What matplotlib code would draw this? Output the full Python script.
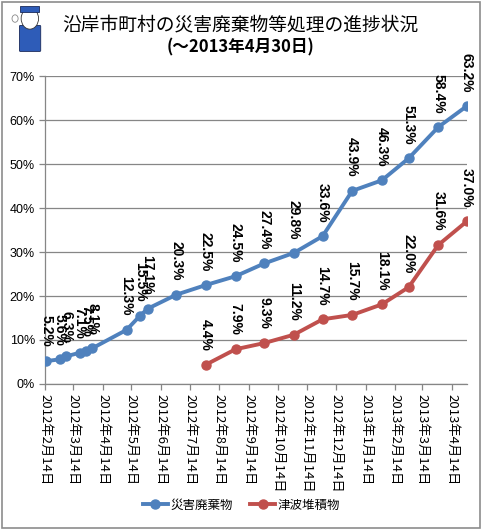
import datetime as dt
import matplotlib
matplotlib.use("Agg")
import matplotlib.pyplot as plt
from matplotlib.patches import Rectangle, Circle, FancyBboxPatch
from matplotlib.ticker import FuncFormatter

plt.rcParams['font.family'] = ['Noto Sans CJK JP', 'DejaVu Sans']

# data (percent)
waste_dates = ["2012-02-15", "2012-02-29", "2012-03-07", "2012-03-21", "2012-03-28",
               "2012-04-03", "2012-05-09", "2012-05-23", "2012-05-31", "2012-06-30",
               "2012-07-31", "2012-08-31", "2012-09-30", "2012-10-31", "2012-11-30",
               "2012-12-31", "2013-01-31", "2013-02-28", "2013-03-31", "2013-04-30"]
waste_vals = [5.2, 5.6, 6.3, 7.1, 7.5, 8.1, 12.3, 15.5, 17.1, 20.3,
              22.5, 24.5, 27.4, 29.8, 33.6, 43.9, 46.3, 51.3, 58.4, 63.2]

tsunami_dates = ["2012-07-31", "2012-08-31", "2012-09-30", "2012-10-31", "2012-11-30",
                 "2012-12-31", "2013-01-31", "2013-02-28", "2013-03-31", "2013-04-30"]
tsunami_vals = [4.4, 7.9, 9.3, 11.2, 14.7, 15.7, 18.1, 22.0, 31.6, 37.0]

series_names = ["災害廃棄物", "津波堆積物"]
series_colors = ["#4F81BD", "#C0504D"]

tick_dates = ["2012-02-14", "2012-03-14", "2012-04-14", "2012-05-14", "2012-06-14",
              "2012-07-14", "2012-08-14", "2012-09-14", "2012-10-14", "2012-11-14",
              "2012-12-14", "2013-01-14", "2013-02-14", "2013-03-14", "2013-04-14"]

title = "沿岸市町村の災害廃棄物等処理の進捗状況"
subtitle = "(～2013年4月30日)"


def to_dates(lst):
    return [dt.datetime.strptime(s, "%Y-%m-%d") for s in lst]


fig = plt.figure(figsize=(4.83, 5.30), dpi=100)
ax = fig.add_axes([0.0938, 0.2755, 0.873, 0.581])

grid_c = "#868686"
for dates, vals, name, col in [(waste_dates, waste_vals, series_names[0], series_colors[0]),
                               (tsunami_dates, tsunami_vals, series_names[1], series_colors[1])]:
    d = to_dates(dates)
    ax.plot(d, vals, color=col, lw=2.8, marker='o', ms=6.5, label=name, zorder=3)
    for x, v in zip(d, vals):
        ax.annotate(f"{v:.1f}%", (x, v), xytext=(0, 10), textcoords='offset points',
                    rotation=-90, ha='center', va='bottom', fontsize=10,
                    fontweight='bold', family=['Liberation Sans', 'DejaVu Sans'],
                    color='black', zorder=4)

ax.set_ylim(0, 70)
ax.set_yticks(range(0, 71, 10))
ax.yaxis.set_major_formatter(FuncFormatter(lambda v, p: f"{v:.0f}%"))
ax.set_xlim(dt.datetime(2012, 2, 14), dt.datetime(2013, 4, 30))

ticks = to_dates(tick_dates)
ax.set_xticks(ticks)
ax.set_xticklabels([f"{t.year}年{t.month}月{t.day}日" for t in ticks],
                   rotation=-90, ha='center', va='top', fontsize=9.5)
for lab in ax.get_yticklabels():
    lab.set_family(['Liberation Sans', 'DejaVu Sans'])
    lab.set_fontsize(9)

ax.grid(axis='y', color=grid_c, lw=0.9)
ax.set_axisbelow(True)
for s in ['top', 'right']:
    ax.spines[s].set_visible(False)
for s in ['left', 'bottom']:
    ax.spines[s].set_color(grid_c)
    ax.spines[s].set_linewidth(0.9)
ax.tick_params(axis='both', colors=grid_c, length=4, width=0.9, labelcolor='black')
ax.tick_params(axis='x', pad=3)

fig.text(0.497, 1 - 25 / 530, title, ha='center', va='center', fontsize=13.5)
fig.text(0.497, 1 - 47 / 530, subtitle, ha='center', va='center', fontsize=12,
         fontweight='bold')

fig.legend(loc='center', bbox_to_anchor=(0.5, 1 - 505 / 530), ncol=2, frameon=False,
           fontsize=9, handlelength=2.0, handletextpad=0.2, columnspacing=1.4)

# rough stand-in for the mascot in the corner
m = fig.add_axes([0.015, 0.895, 0.09, 0.1])
m.set_xlim(0, 1)
m.set_ylim(0, 1)
m.axis('off')
m.add_patch(FancyBboxPatch((0.3, 0.1), 0.45, 0.45, boxstyle="round,pad=0.02",
                           fc="#2E5CB8", ec="#1a2a5a", lw=0.6))
m.add_patch(Circle((0.52, 0.7), 0.2, fc="white", ec="#333333", lw=0.6))
m.add_patch(Rectangle((0.3, 0.82), 0.42, 0.12, fc="#2E5CB8", ec="#1a2a5a", lw=0.6))
m.add_patch(Circle((0.18, 0.7), 0.07, fc="none", ec="#888888", lw=0.6))

fig.patches.append(Rectangle((0.004, 0.004), 0.99, 0.992, transform=fig.transFigure,
                             fill=False, ec="#8c8c8c", lw=1.2))

fig.savefig("out.png", dpi=100)
